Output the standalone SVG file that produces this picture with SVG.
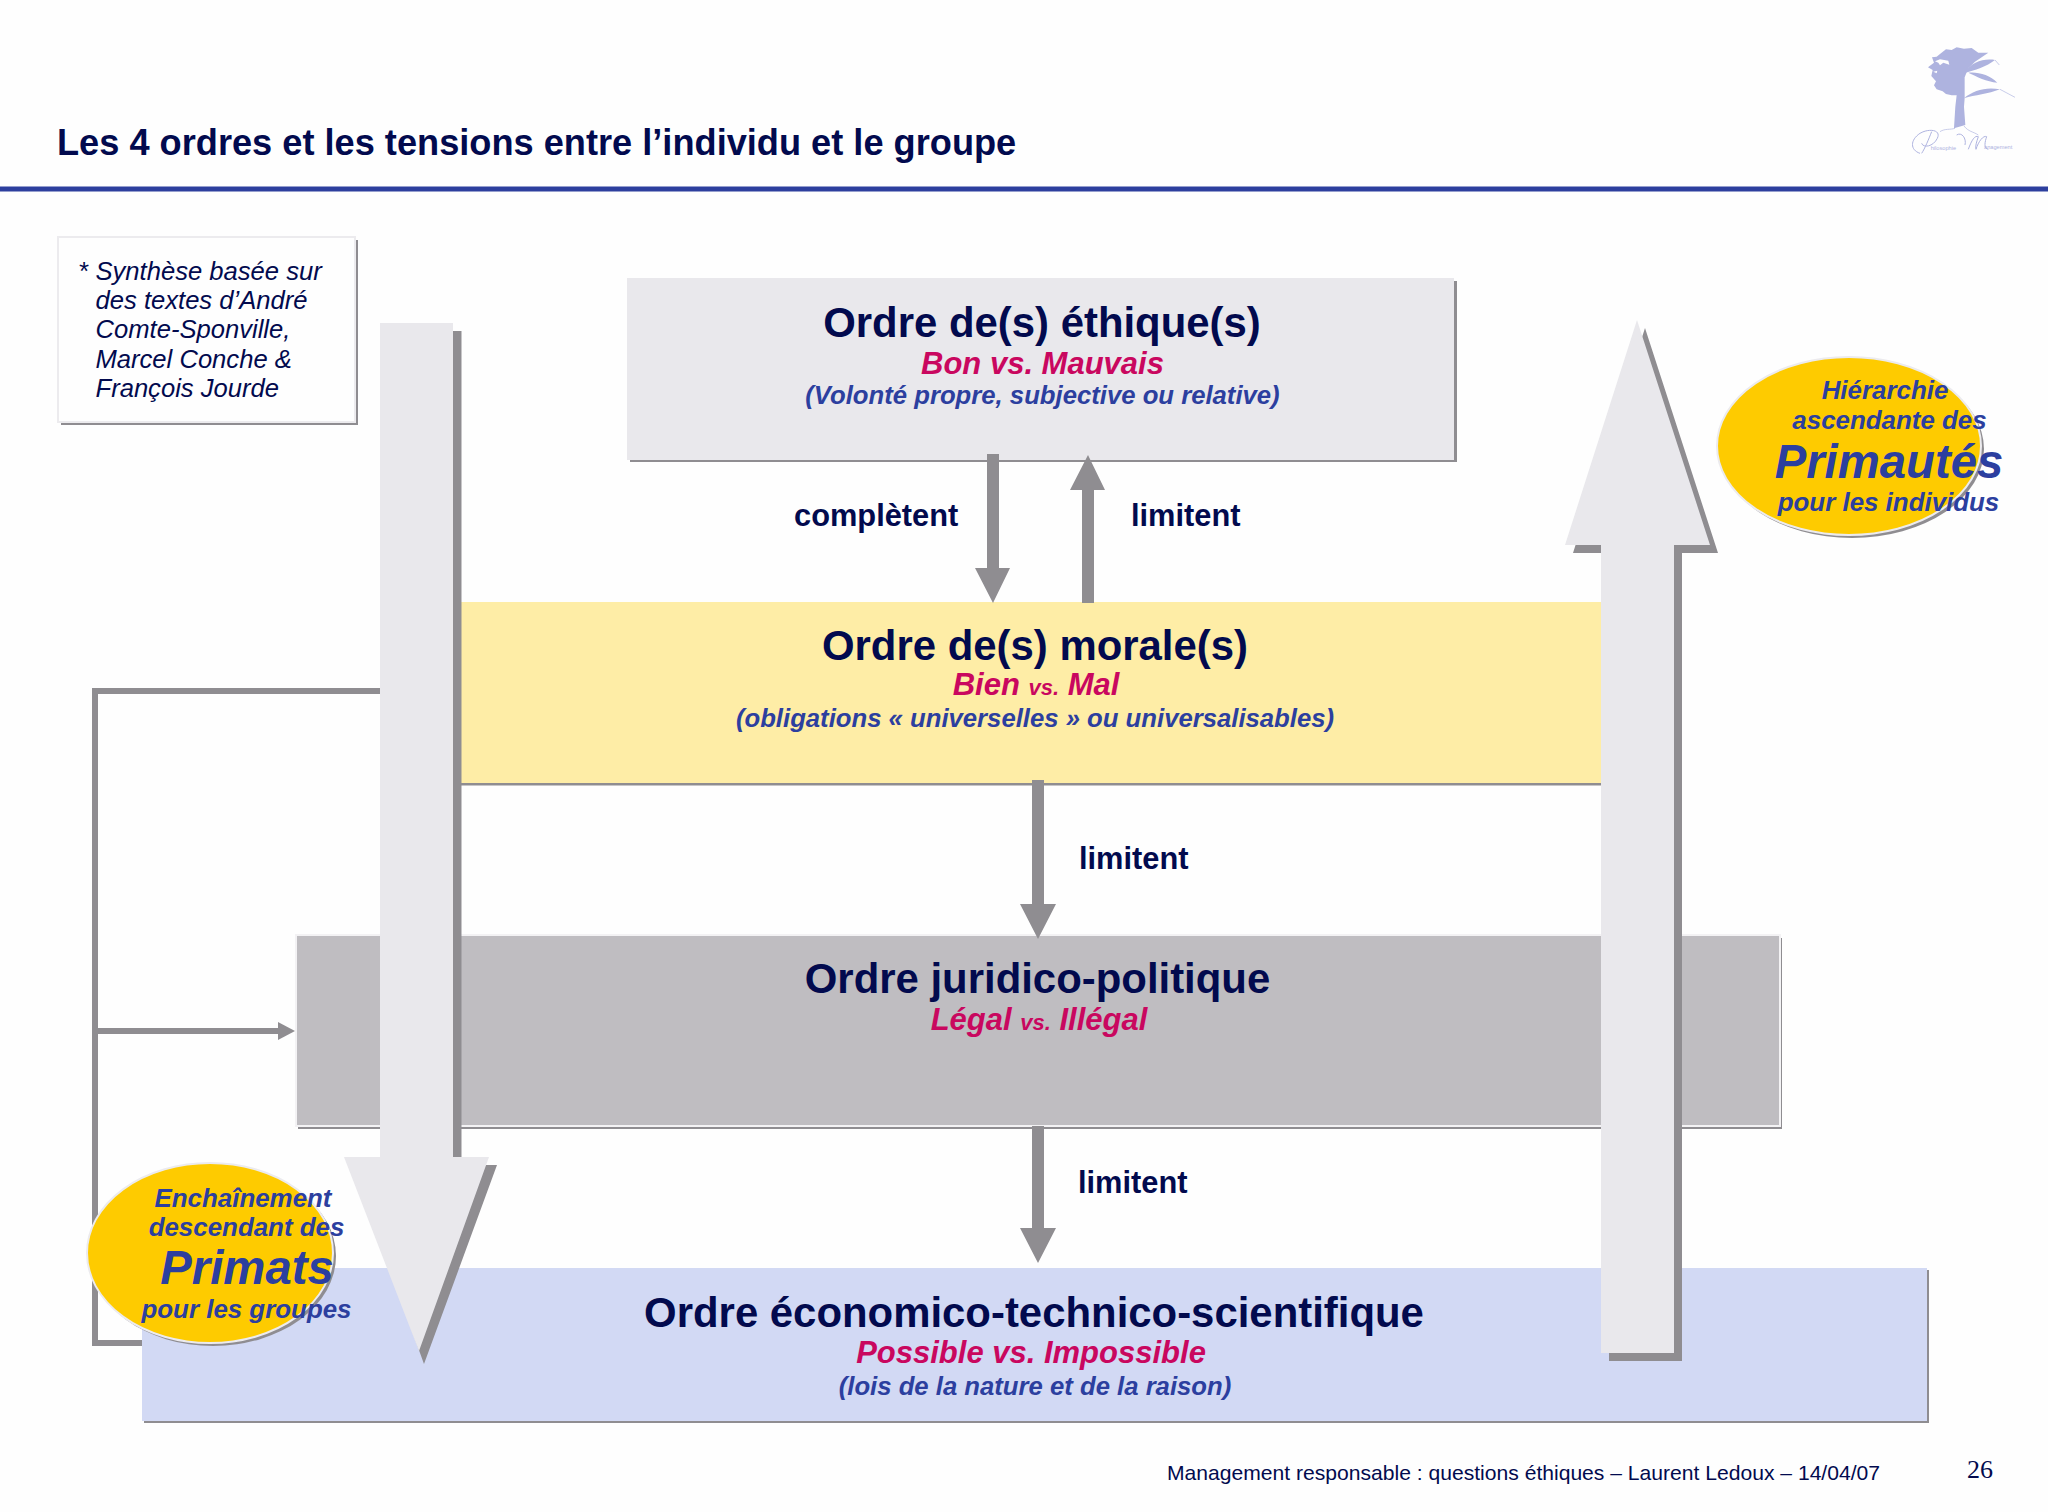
<svg xmlns="http://www.w3.org/2000/svg" width="2048" height="1512" viewBox="0 0 2048 1512">
<style>
text{font-family:"Liberation Sans",Arial,sans-serif}
.h{font-weight:bold;font-size:41.9px;fill:#020a4e;text-anchor:middle}
.v{font-weight:bold;font-style:italic;font-size:31px;fill:#c9075f;text-anchor:middle}
.sm{font-size:22px}
.p{font-weight:bold;font-style:italic;font-size:25.7px;fill:#2c3f9f;text-anchor:middle}
.l{font-weight:bold;font-size:30.8px;fill:#020a4e}
.n{font-style:italic;font-size:25.6px;fill:#020a4e}
.e{font-weight:bold;font-style:italic;font-size:25.9px;fill:#2c3f9f;text-anchor:middle}
.big{font-size:47.3px}
.sh{fill:#8f8d91}
.bar{fill:#e9e8ec}
.c{fill:#8f8d91}
.line{fill:none;stroke:#8f8d91;stroke-width:6}
.logo{fill:#aeb3df}
.ls{fill:none;stroke:#aeb3df}
</style>
<rect width="2048" height="1512" fill="#fefefe"/>
<g id="header">
<text x="57" y="155" style="font-weight:bold;font-size:36.2px;fill:#020a4e">Les 4 ordres et les tensions entre l’individu et le groupe</text>
<rect x="0" y="186.500" width="2048" height="5" fill="#2d3f9e"/>
</g>
<g id="logo" transform="translate(1840 20) scale(.3333)">
<path class="logo" d="M300 102L318 88L335 90L350 82L372 86L395 84L415 98L445 98L425 112L405 125L385 145L374 172L374 235L372 260L376 315L342 325L346 260L350 226L335 226L318 222L308 214L290 208L282 196L288 184L274 168L278 150L264 142L282 128L276 112L290 110Z"/>
<path class="logo" d="M372 160C395 125 430 115 465 120C440 140 405 150 372 160ZM385 158C415 155 450 165 472 188C440 185 410 170 385 158ZM372 235C400 210 440 200 480 208C445 222 405 225 372 235Z"/>
<path class="ls" stroke-width="2" d="M480 208L525 232M465 120L478 135M345 325C330 330 315 325 300 335M372 318C385 335 400 335 415 345"/>
<path fill="#fefefe" d="M285 124L300 118L325 122L328 134L310 128L300 136L295 128ZM280 155L292 152L290 160Z"/>
<path class="ls" stroke-width="3" d="M240 400C210 390 210 360 240 340C265 325 305 328 292 355C280 380 250 385 245 370M275 335C265 360 255 385 245 400M350 345C365 335 380 355 375 375M385 388C395 360 405 345 415 350C410 365 405 380 408 388C415 365 430 345 440 350C435 365 430 385 445 388"/>
<text x="272" y="390" style="font-size:17px;fill:#aeb3df">hilosophie</text>
<text x="432" y="388" style="font-size:17px;fill:#aeb3df">anagement</text>
</g>
<g id="box-ethique">
<rect x="630" y="281" width="827" height="181" class="sh"/>
<rect x="627" y="278" width="827" height="182" fill="#e9e8ec"/>
<text class="h" x="1042" y="337">Ordre de(s) éthique(s)</text>
<text class="v" x="1042.500" y="374">Bon vs. Mauvais</text>
<text class="p" x="1042.500" y="404">(Volonté propre, subjective ou relative)</text>
</g>
<g id="box-morale">
<rect x="461" y="783" width="1140" height="2.500" class="sh"/>
<rect x="461" y="602" width="1140" height="181" fill="#feeda6"/>
<text class="h" x="1035" y="660">Ordre de(s) morale(s)</text>
<text class="v" x="1036" y="695">Bien <tspan class="sm">vs.</tspan> Mal</text>
<text class="p" x="1035" y="727">(obligations « universelles » ou universalisables)</text>
</g>
<g id="box-juridico">
<rect x="298" y="938" width="1484" height="191" class="sh"/>
<rect x="296" y="935" width="1484" height="191" fill="#bfbdc1" stroke="#f3f2f4" stroke-width="2"/>
<text class="h" x="1037.500" y="993">Ordre juridico-politique</text>
<text class="v" x="1039" y="1030">Légal <tspan class="sm">vs.</tspan> Illégal</text>
</g>
<g id="box-economique">
<rect x="144" y="1270" width="1785" height="153" class="sh"/>
<rect x="142" y="1268" width="1785" height="153" fill="#d2d9f4"/>
<text class="h" x="1034" y="1327">Ordre économico-technico-scientifique</text>
<text class="v" x="1031" y="1363">Possible vs. Impossible</text>
<text class="p" x="1035" y="1394.500">(lois de la nature et de la raison)</text>
</g>
<g id="connectors">
<path class="line" d="M380 691H95V1343H142"/>
<path class="line" d="M95 1031H280"/>
<path class="c" d="M278 1022L295 1031L278 1040Z"/>
<path class="c" d="M987 454H999V568H1010L993 603L975 568H987Z"/>
<path class="c" d="M1082 603H1094V490H1105L1088 455L1070 490H1082Z"/>
<path class="c" d="M1032 780H1044V904H1056L1038 939L1020 904H1032Z"/>
<path class="c" d="M1032 1126H1044V1228H1056L1038 1263L1020 1228H1032Z"/>
</g>
<g id="labels">
<text class="l" x="794" y="526">complètent</text>
<text class="l" x="1131" y="526">limitent</text>
<text class="l" x="1079" y="869">limitent</text>
<text class="l" x="1078" y="1193">limitent</text>
</g>
<g id="arrow-down">
<path class="sh" d="M388 331H461.500V1165H497L424 1364L352 1165H388Z"/>
<path class="bar" d="M380 323H453V1157H489L419 1351L344 1157H380Z"/>
</g>
<g id="arrow-up">
<path class="sh" d="M1645 328L1718 553H1682V1361H1609V553H1573Z"/>
<path class="bar" d="M1637 320L1710 545H1674V1353H1601V545H1565Z"/>
</g>
<g id="note">
<rect x="61" y="240" width="297" height="185" class="sh"/>
<rect x="58" y="237" width="297" height="185" fill="#fefefe" stroke="#ecebee" stroke-width="2"/>
<text class="n" x="78" y="279.500">*</text>
<text class="n" x="95.500" y="279.500">Synthèse basée sur</text>
<text class="n" x="95.500" y="308.500">des textes d’André</text>
<text class="n" x="95.500" y="338">Comte-Sponville,</text>
<text class="n" x="95.500" y="367.500">Marcel Conche &amp;</text>
<text class="n" x="95.500" y="397">François Jourde</text>
</g>
<g id="bubble-primautes">
<ellipse cx="1852" cy="449" rx="132" ry="89" class="sh"/>
<ellipse cx="1849" cy="446" rx="132" ry="89" fill="#fecb00" stroke="#ecebee" stroke-width="2"/>
<text class="e" x="1885" y="398.500">Hiérarchie</text>
<text class="e" x="1889.500" y="428.500">ascendante des</text>
<text class="e big" x="1889" y="477.500">Primautés</text>
<text class="e" x="1888.500" y="510.500">pour les individus</text>
</g>
<g id="bubble-primats">
<ellipse cx="213" cy="1256" rx="123" ry="90" class="sh"/>
<ellipse cx="210" cy="1253" rx="123" ry="90" fill="#fecb00" stroke="#ecebee" stroke-width="2"/>
<text class="e" x="243" y="1206.500">Enchaînement</text>
<text class="e" x="246.500" y="1235.500">descendant des</text>
<text class="e big" x="247" y="1284">Primats</text>
<text class="e" x="246.500" y="1317.500">pour les groupes</text>
</g>
<g id="footer">
<text x="1167" y="1480" style="font-size:21.1px;fill:#020a4e">Management responsable : questions éthiques – Laurent Ledoux – 14/04/07</text>
<text x="1967" y="1478" style="font-family:'Liberation Serif',serif;font-size:26px;fill:#020a4e">26</text>
</g>
</svg>
